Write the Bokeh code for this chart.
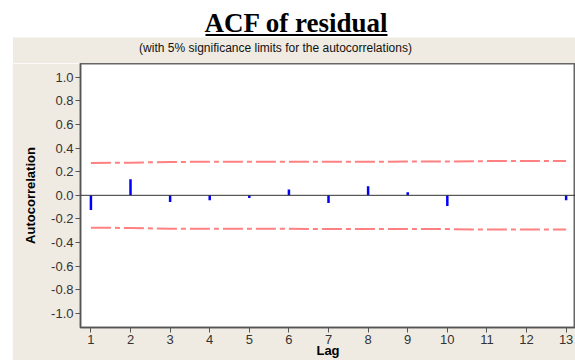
from bokeh.plotting import figure
from bokeh.models import Range1d, FixedTicker, PrintfTickFormatter, Span, Label, Spacer
from bokeh.layouts import column, row
from bokeh.embed import file_html
from bokeh.resources import INLINE

# ---- data ----
lags = [1, 2, 3, 4, 5, 6, 7, 8, 9, 10, 11, 12, 13]
acf = [-0.125, 0.136, -0.057, -0.042, -0.023, 0.050, -0.065, 0.077, 0.025, -0.090, 0.0, 0.0, -0.042]
upper_limit = [0.274, 0.277, 0.283, 0.284, 0.284, 0.284, 0.285, 0.285, 0.286, 0.286, 0.290, 0.290, 0.290]
lower_limit = [-0.274, -0.277, -0.283, -0.284, -0.284, -0.284, -0.285, -0.285, -0.286, -0.286, -0.290, -0.290, -0.290]
y_ticks = [-1.0, -0.8, -0.6, -0.4, -0.2, 0.0, 0.2, 0.4, 0.6, 0.8, 1.0]
x_ticks = lags

title_text = "ACF of residual"
subtitle_text = "(with 5% significance limits for the autocorrelations)"
x_label = "Lag"
y_label = "Autocorrelation"

BEIGE = "#EFEBE2"
FONT = "Liberation Sans"

# ---- header strip (page rows 0..63) ----
top = figure(width=575, height=63, x_range=Range1d(0, 575), y_range=Range1d(0, 63),
             x_axis_type=None, y_axis_type=None, toolbar_location=None,
             output_backend="svg", min_border=0)
top.min_border_left = 0
top.min_border_right = 0
top.min_border_top = 0
top.min_border_bottom = 0
top.outline_line_color = None
top.background_fill_color = "white"
top.border_fill_color = "white"
top.grid.visible = False
top.quad(left=[12.5], right=[575], bottom=[0], top=[26], fill_color=BEIGE, line_color=None)
top.add_layout(Label(x=296, y=40.5, text=title_text, text_align="center",
                     text_baseline="middle", text_font="Liberation Serif",
                     text_font_style="bold", text_font_size="27px", text_color="black"))
top.line([205, 387], [28.5, 28.5], line_color="black", line_width=2)
top.add_layout(Label(x=275, y=16, text=subtitle_text, text_align="center",
                     text_baseline="middle", text_font=FONT,
                     text_font_size="12px", text_color="#111111"))

# ---- main chart ----
p = figure(width=563, height=297, x_range=Range1d(0.737, 13.237), y_range=Range1d(-1.12, 1.117),
           toolbar_location=None, output_backend="svg",
           min_border_left=68, min_border_right=0, min_border_top=0, min_border_bottom=33)
p.background_fill_color = "white"
p.border_fill_color = BEIGE
p.outline_line_color = "#666666"
p.outline_line_width = 2
p.grid.visible = False

for ax in (p.xaxis[0], p.yaxis[0]):
    ax.axis_line_color = "#555555"
    ax.major_tick_line_color = "#555555"
    ax.major_tick_out = 5
    ax.major_tick_in = 0
    ax.minor_tick_line_color = None
    ax.major_label_text_font = FONT
    ax.major_label_text_font_size = "13px"
    ax.major_label_text_color = "#333333"
    ax.major_label_standoff = 2
    ax.axis_label_text_font = FONT
    ax.axis_label_text_font_style = "bold"
    ax.axis_label_text_font_size = "13px"
    ax.axis_label_text_color = "black"

p.yaxis.axis_label = y_label
p.yaxis.axis_label_standoff = 10
p.xaxis.axis_label = x_label
p.xaxis.axis_label_standoff = -4

p.xaxis.ticker = FixedTicker(ticks=x_ticks)
p.yaxis.ticker = FixedTicker(ticks=y_ticks)
p.yaxis.formatter = PrintfTickFormatter(format="%.1f")

p.add_layout(Span(location=0, dimension="width", line_color="#333333", line_width=1))

p.line(lags, upper_limit, line_color="#FF8080", line_width=2, line_dash="20 4 5 4")
p.line(lags, lower_limit, line_color="#FF8080", line_width=2, line_dash="20 4 5 4")

p.segment(x0=lags, y0=[0] * len(lags), x1=lags, y1=acf, line_color="#0000FF",
          line_width=2.5, line_cap="butt")

layout = column(top, row(Spacer(width=12, height=297), p))
open("out.html", "w").write(file_html(layout, INLINE))
